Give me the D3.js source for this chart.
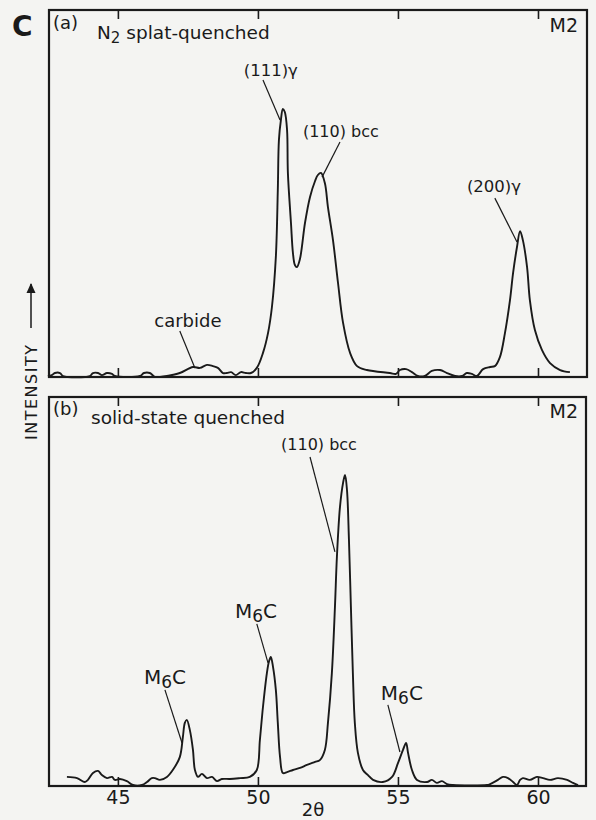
<!DOCTYPE html>
<html>
<head>
<meta charset="utf-8">
<script src="https://cdn.jsdelivr.net/npm/d3@7"></script>
<style>
  html, body { margin: 0; padding: 0; background: #f4f4f2; }
  svg { display: block; }
  text { font-family: "DejaVu Sans", sans-serif; fill: #1a1a1a; }
</style>
</head>
<body>
<svg id="chart" width="596" height="820"></svg>
<script>
// ---------- DATA ----------
const xTicks = [45, 50, 55, 60];
const xTickLabels = ["45", "50", "55", "60"];

// (a) N2 splat-quenched : 2θ values and intensities (arbitrary units)
const twoThetaA = [42.50,42.64,42.75,42.93,43.04,44.00,44.11,44.29,44.43,44.61,44.79,44.89,45.79,45.93,46.14,46.32,46.50,46.75,47.21,47.68,47.93,48.18,48.39,48.57,48.75,48.89,49.04,49.21,49.39,49.57,49.75,49.96,50.18,50.36,50.50,50.64,50.71,50.75,50.82,50.89,50.96,51.04,51.07,51.18,51.25,51.32,51.39,51.50,51.68,51.86,52.04,52.14,52.25,52.39,52.50,52.68,52.86,53.04,53.29,53.54,53.89,54.71,54.93,55.07,55.29,55.50,55.71,55.96,56.21,56.50,56.75,57.04,57.29,57.46,57.64,57.82,58.04,58.29,58.46,58.64,58.82,59.00,59.11,59.25,59.36,59.46,59.61,59.71,59.89,60.14,60.43,60.79,61.14];
const intensityA = [0,0.3,1,1,0,0,1,1,0.3,1,0.7,0,0,1,1,-0.3,-0.3,0,1,3,2.7,3.7,3.3,2.7,1,1,1.3,0.3,1.3,1,1,2.7,7.7,14.3,23,39.7,62,78.7,85.3,89,88,82,67.7,51,41,37,36.3,39,51,59.7,65,67,67.7,64.3,56.3,45.3,31,17.7,7.7,3.3,2,1,0.7,2,2.3,1.3,0,0,1.7,2,1,0,0,1,0.7,0,2.3,3,3.3,6.3,14.3,25.3,34.3,43,48.3,45.3,36.3,25.3,15.3,8.7,4.3,2,1.3];

// (b) solid-state quenched
const twoThetaB = [43.18,43.54,43.82,43.93,44.11,44.29,44.43,44.61,44.79,44.89,45.07,45.32,45.54,45.86,46.04,46.21,46.32,46.50,46.75,46.96,47.21,47.32,47.39,47.46,47.57,47.68,47.75,47.86,48.00,48.18,48.36,48.54,48.71,49.00,49.36,49.71,49.96,50.07,50.18,50.32,50.39,50.46,50.54,50.64,50.71,50.79,50.89,51.04,51.25,51.50,51.75,52.04,52.21,52.39,52.50,52.64,52.75,52.82,52.93,53.04,53.11,53.18,53.25,53.32,53.39,53.46,53.57,53.75,53.93,54.11,54.46,54.79,55.00,55.18,55.29,55.36,55.50,55.68,56.04,56.21,56.39,56.57,56.75,56.96,58.18,58.29,58.57,58.75,58.93,59.11,59.25,59.36,59.46,59.71,59.96,60.18,60.43,60.71,61.04,61.25,61.43];
const intensityB = [2.7,2.3,1,1.7,4,4.7,3.3,2.3,2.7,1.7,2,1.3,0,0,1,2.3,2.3,1.7,2.7,5,9.3,16,20.7,21.7,18.3,11.7,5,2.7,3.7,2.3,2.7,1.3,2,2,2.3,2.7,5,15,26,37.3,41,42.7,39.3,31.7,20.7,9.3,4,4.3,5,5.7,6.7,7.7,8.3,11.7,20.7,37.3,59.3,76,92.7,100.7,103.3,98.3,81.7,59.3,37.3,20.7,10.7,5,3.3,1.7,1,2.7,7.3,11.7,14,10.7,5,1.7,1,1.7,0.7,1.3,0.3,0,0,0.3,1.7,2.7,2.3,1,0,1.7,2.3,1.7,2.7,2.3,1.7,2.3,1.7,0.7,0];

// peak annotations: label, text anchor (2θ, I), leader from (2θ, I) to (2θ, I)
const annotA = [
  { label: "(111)\u03B3", tx: 50.46, ty: 100,  x1: 50.18, y1: 98.7, x2: 50.79, y2: 85.3 },
  { label: "(110) bcc",   tx: 52.96, ty: 79.7, x1: 52.93, y1: 78,   x2: 52.29, y2: 66.3 },
  { label: "(200)\u03B3", tx: 58.43, ty: 61.3, x1: 58.46, y1: 59.3, x2: 59.25, y2: 44.7 },
  { label: "carbide",     tx: 47.50, ty: 16.3, x1: 47.21, y1: 15,   x2: 47.75, y2: 2.7 }
];
const annotB = [
  { label: "(110) bcc", tx: 52.18, ty: 111.7, x1: 51.86, y1: 109.3, x2: 52.75, y2: 77.7 },
  { label: "M6C",       tx: 49.93, ty: 55.7,  x1: 49.96, y1: 53.7,  x2: 50.36, y2: 40.7 },
  { label: "M6C",       tx: 46.68, ty: 33.7,  x1: 46.68, y1: 31.7,  x2: 47.29, y2: 14 },
  { label: "M6C",       tx: 55.14, ty: 28.3,  x1: 54.64, y1: 26.7,  x2: 55.07, y2: 11 }
];

// ---------- DRAW ----------
const svg = d3.select("#chart");
const ink = "#1a1a1a";

const x = d3.scaleLinear().domain([42.54, 61.75]).range([49, 587]);

const labelSize = l => (l === "M6C" ? 20 : l === "carbide" ? 18 : l.indexOf("bcc") >= 0 ? 16 : 16.5);

const panels = [
  { top: 10,  bottom: 377, right: 587, yDom: [-0.33, 122],  tx: twoThetaA, iy: intensityA, ann: annotA,
    tag: "(a)", title: "splat-quenched", sub: true },
  { top: 397, bottom: 786, right: 586, yDom: [-0.33, 129.3], tx: twoThetaB, iy: intensityB, ann: annotB,
    tag: "(b)", title: "solid-state quenched", sub: false }
];

panels.forEach((p, pi) => {
  const y = d3.scaleLinear().domain(p.yDom).range([p.bottom, p.top]);
  const g = svg.append("g");

  // frame
  g.append("rect")
    .attr("x", 49).attr("y", p.top)
    .attr("width", p.right - 49).attr("height", p.bottom - p.top)
    .attr("fill", "none").attr("stroke", ink).attr("stroke-width", 2.2);

  // inward ticks top
  const axTop = d3.axisTop(x).tickValues(xTicks).tickSize(-9).tickFormat("");
  g.append("g").attr("transform", `translate(0,${p.top})`).call(axTop)
    .call(s => s.select(".domain").remove())
    .call(s => s.selectAll("line").attr("stroke", ink).attr("stroke-width", 1.6));

  // inward ticks bottom
  const axBot = d3.axisBottom(x).tickValues(xTicks).tickSize(-9)
    .tickPadding(4)
    .tickFormat(pi === 1 ? ((d, i) => xTickLabels[i]) : "");
  g.append("g").attr("transform", `translate(0,${p.bottom})`).call(axBot)
    .call(s => s.select(".domain").remove())
    .call(s => s.selectAll("line").attr("stroke", ink).attr("stroke-width", 1.6))
    .call(s => s.selectAll("text").attr("font-size", 19).attr("font-family", "DejaVu Sans").attr("fill", ink));

  // curve
  const pts = p.tx.map((d, i) => [d, p.iy[i]]);
  const line = d3.line().x(d => x(d[0])).y(d => y(d[1])).curve(d3.curveCatmullRom.alpha(0.5));
  g.append("path").datum(pts).attr("d", line)
    .attr("fill", "none").attr("stroke", ink).attr("stroke-width", 1.9)
    .attr("stroke-linejoin", "round");

  // annotations
  p.ann.forEach(a => {
    g.append("line")
      .attr("x1", x(a.x1)).attr("y1", y(a.y1))
      .attr("x2", x(a.x2)).attr("y2", y(a.y2))
      .attr("stroke", ink).attr("stroke-width", 1.2);
    const fs = labelSize(a.label);
    const t = g.append("text").attr("x", x(a.tx)).attr("y", y(a.ty))
      .attr("text-anchor", "middle").attr("font-size", fs);
    if (a.label === "M6C") {
      t.append("tspan").text("M");
      t.append("tspan").text("6").attr("font-size", fs - 3).attr("dy", 4);
      t.append("tspan").text("C").attr("dy", -4);
    } else {
      t.text(a.label);
    }
  });

  // panel tag, title, M2
  const tagY = pi === 0 ? 29 : 415;
  g.append("text").attr("x", 53).attr("y", tagY).attr("font-size", 18).text(p.tag);
  if (p.sub) {
    const t = g.append("text").attr("x", 97).attr("y", 39).attr("font-size", 18.5);
    t.append("tspan").text("N");
    t.append("tspan").text("2").attr("font-size", 15).attr("dy", 4);
    t.append("tspan").text(" " + p.title).attr("dy", -4);
  } else {
    g.append("text").attr("x", 91).attr("y", 424).attr("font-size", 18.5).text(p.title);
  }
  g.append("text").attr("x", 578).attr("y", pi === 0 ? 32 : 418)
    .attr("text-anchor", "end").attr("font-size", 19).text("M2");
});

// figure letter
svg.append("text").attr("x", 12).attr("y", 36)
  .attr("font-size", 28).attr("font-weight", "bold").attr("font-family", "Liberation Sans, sans-serif")
  .text("C");

// y-axis label with arrow
const yl = svg.append("g").attr("transform", "translate(37,440) rotate(-90)");
yl.append("text").attr("x", 0).attr("y", 0).attr("font-size", 16).attr("text-anchor", "start")
  .attr("letter-spacing", 1.5).text("INTENSITY");
yl.append("line").attr("x1", 112).attr("y1", -6).attr("x2", 156).attr("y2", -6)
  .attr("stroke", ink).attr("stroke-width", 1.5);
yl.append("path").attr("d", "M157,-6 L147,-10.5 L147,-1.5 Z").attr("fill", ink);

// x-axis title
svg.append("text").attr("x", 313).attr("y", 816).attr("text-anchor", "middle")
  .attr("font-size", 18).text("2\u03B8");
</script>
</body>
</html>
